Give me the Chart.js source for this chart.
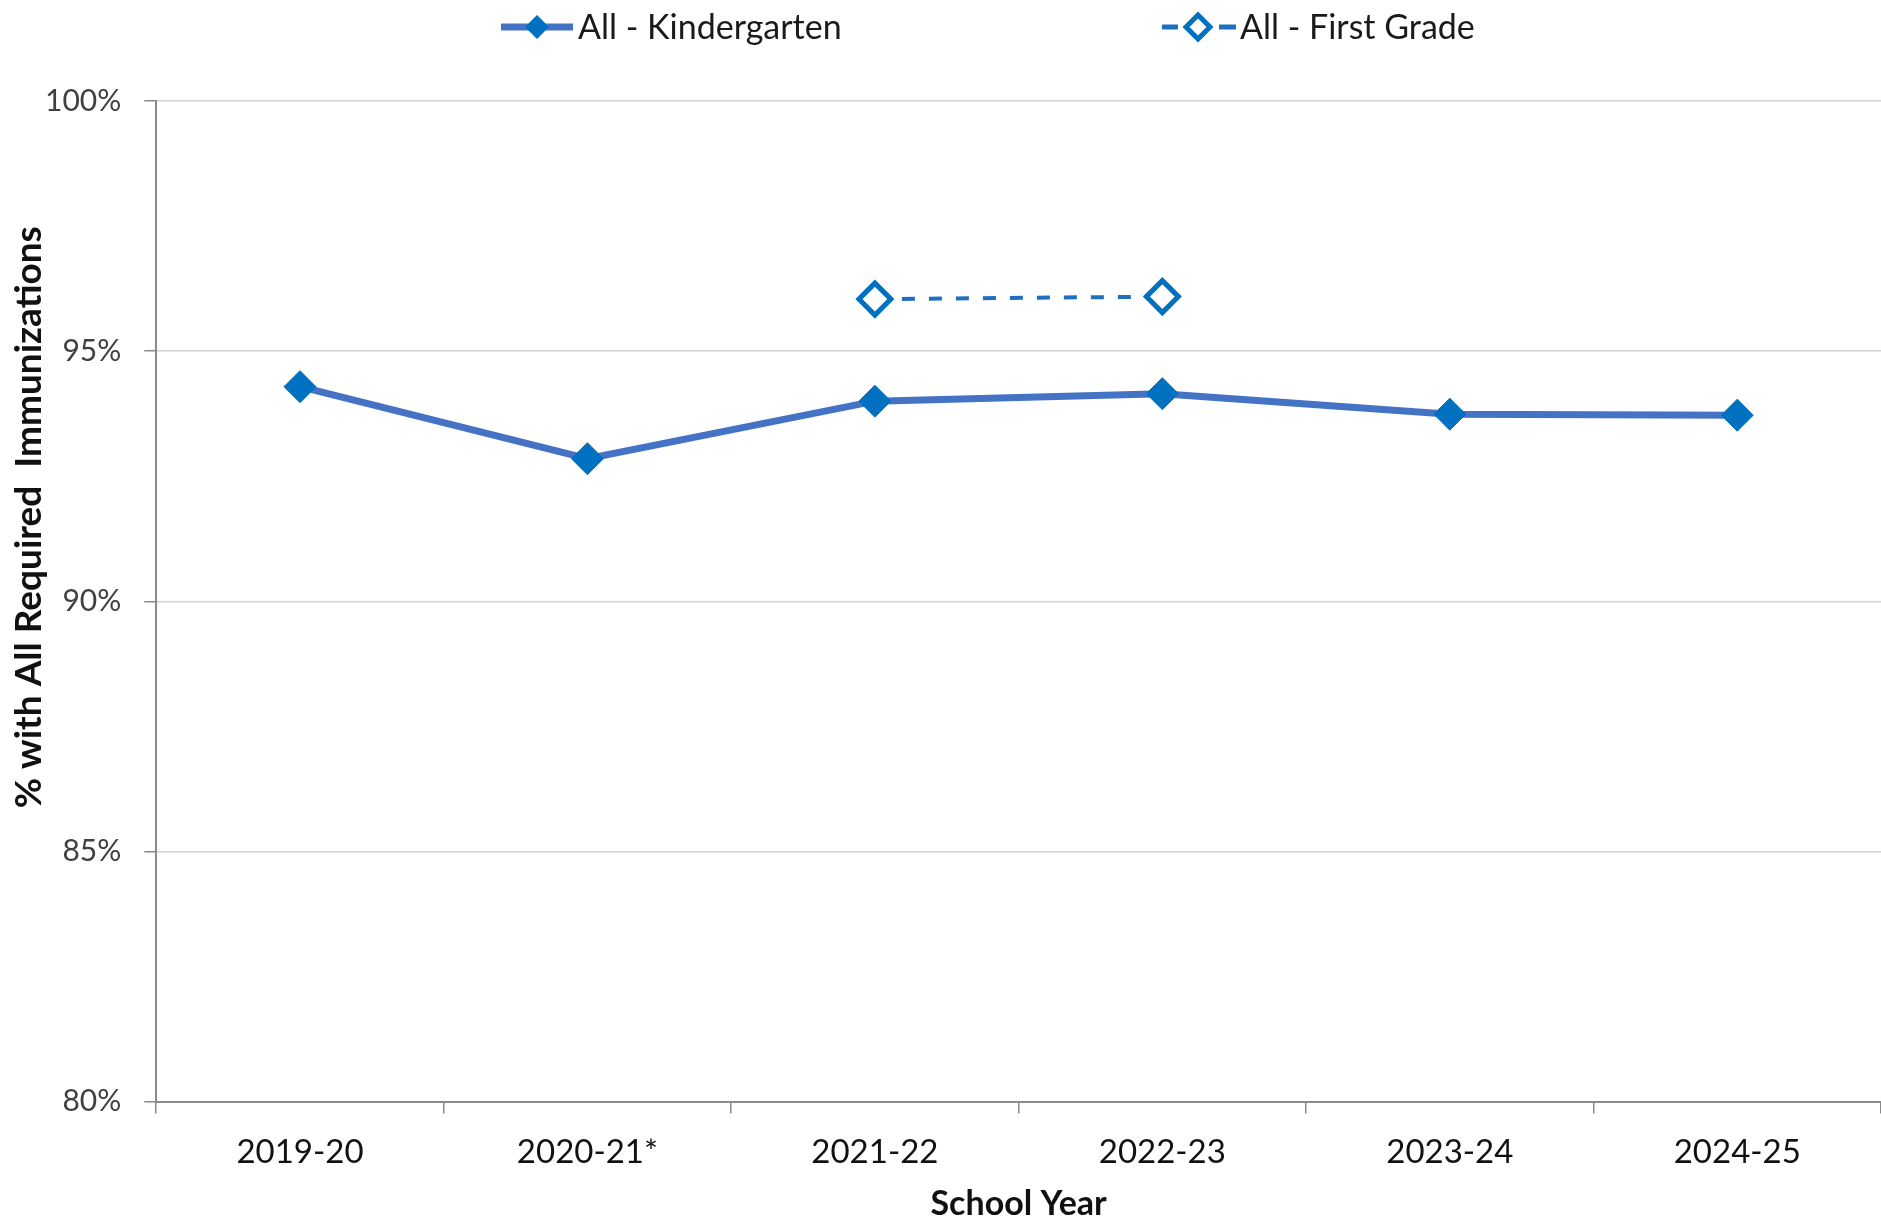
<!DOCTYPE html>
<html lang="en">
<head>
  <meta charset="UTF-8">
  <title>Immunizations by School Year</title>
  <script src="https://cdn.jsdelivr.net/npm/chart.js"></script>
  <style>
    html, body { margin: 0; padding: 0; background: #fff; overflow: hidden; }
    #wrap { width: 1881px; height: 1221px; }
  </style>
</head>
<body>
  <div id="wrap"><canvas id="grafica"></canvas></div>

  <script>
    const years = ['2019-20', '2020-21*', '2021-22', '2022-23', '2023-24', '2024-25'];
    const kindergarten = [94.29, 92.85, 94.0, 94.15, 93.74, 93.72];
    const firstGrade = [null, null, 96.04, 96.09, null, null];
    const yTicks = [80, 85, 90, 95, 100];
    const seriesNames = ['All - Kindergarten', 'All - First Grade'];
    const yTitle = '% with All Required  Immunizations';
    const xTitle = 'School Year';

    const fuente = "Lato, 'Open Sans', sans-serif";

    function diamond(ctx, x, y, r) {
      ctx.beginPath();
      ctx.moveTo(x, y - r);
      ctx.lineTo(x + r, y);
      ctx.lineTo(x, y + r);
      ctx.lineTo(x - r, y);
      ctx.closePath();
    }

    // legend row on top, drawn by hand to keep the wide Excel spacing
    const legendRow = {
      id: 'legendRow',
      afterDraw(chart) {
        const ctx = chart.ctx;
        const y = 27;
        ctx.save();
        // kindergarten sample
        ctx.strokeStyle = '#4472C4';
        ctx.lineWidth = 7;
        ctx.beginPath(); ctx.moveTo(501, y); ctx.lineTo(573, y); ctx.stroke();
        ctx.fillStyle = '#0070C0';
        diamond(ctx, 537, y, 12); ctx.fill();
        // first grade sample
        ctx.strokeStyle = '#1F6FC0';
        ctx.lineWidth = 5;
        ctx.beginPath(); ctx.moveTo(1162, y); ctx.lineTo(1178, y); ctx.stroke();
        ctx.beginPath(); ctx.moveTo(1219, y); ctx.lineTo(1236, y); ctx.stroke();
        ctx.fillStyle = '#fff';
        ctx.strokeStyle = '#0070C0';
        ctx.lineWidth = 5;
        diamond(ctx, 1198, y, 12); ctx.fill(); ctx.stroke();
        // texts
        ctx.fillStyle = '#1a1a1a';
        ctx.font = '34px ' + fuente;
        ctx.textBaseline = 'middle';
        ctx.textAlign = 'left';
        ctx.fillText(seriesNames[0], 578, y + 1);
        ctx.fillText(seriesNames[1], 1240, y + 1);
        ctx.restore();
      }
    };

    // y title sits higher than the axis centre in the original
    const yTitlePlugin = {
      id: 'yTitlePlugin',
      afterDraw(chart) {
        const ctx = chart.ctx;
        const a = chart.chartArea;
        ctx.save();
        ctx.translate(29, a.top + (a.bottom - a.top) * 0.416);
        ctx.rotate(-Math.PI / 2);
        ctx.fillStyle = '#111';
        ctx.font = 'bold 37px ' + fuente;
        ctx.textAlign = 'center';
        ctx.textBaseline = 'middle';
        ctx.fillText(yTitle, 0, 0);
        ctx.restore();
      }
    };

    const ctx = document.getElementById('grafica').getContext('2d');
    new Chart(ctx, {
      type: 'line',
      data: {
        labels: years,
        datasets: [{
          label: seriesNames[0],
          data: kindergarten,
          borderColor: '#4472C4',
          borderWidth: 7,
          pointStyle: 'rectRot',
          pointRadius: 16,
          pointBackgroundColor: '#0070C0',
          pointBorderColor: '#0070C0',
          pointBorderWidth: 1,
          tension: 0
        }, {
          label: seriesNames[1],
          data: firstGrade,
          borderColor: '#1F6FC0',
          borderWidth: 4,
          borderDash: [13, 14],
          pointStyle: 'rectRot',
          pointRadius: 16,
          pointBackgroundColor: '#fff',
          pointBorderColor: '#0070C0',
          pointBorderWidth: 5,
          spanGaps: false,
          tension: 0
        }]
      },
      options: {
        responsive: true,
        maintainAspectRatio: false,
        animation: false,
        layout: { autoPadding: false, padding: { top: 101, left: 22, right: 0, bottom: -3 } },
        plugins: {
          legend: { display: false },
          tooltip: { enabled: false }
        },
        scales: {
          x: {
            type: 'category',
            offset: true,
            grid: {
              offset: true,
              drawOnChartArea: false,
              drawTicks: true,
              tickLength: 12,
              color: '#8a8a8a',
              lineWidth: 1.5
            },
            border: { color: '#8a8a8a', width: 2 },
            ticks: {
              color: '#111',
              font: { family: fuente, size: 33 },
              padding: 19,
              maxRotation: 0,
              autoSkip: false
            },
            title: {
              display: true,
              text: xTitle,
              color: '#111',
              font: { family: fuente, size: 34, weight: 'bold' },
              padding: { top: -8, bottom: 0 }
            }
          },
          y: {
            min: yTicks[0],
            max: yTicks[yTicks.length - 1],
            afterBuildTicks(scale) {
              scale.ticks = yTicks.map(v => ({ value: v }));
            },
            grid: {
              color: '#d4d4d4',
              lineWidth: 1.5,
              tickLength: 12,
              tickColor: '#8a8a8a'
            },
            border: { color: '#8a8a8a', width: 2 },
            ticks: {
              color: '#404040',
              font: { family: fuente, size: 30 },
              padding: 23,
              callback: v => v + '%'
            }
          }
        }
      },
      plugins: [legendRow, yTitlePlugin]
    });
  </script>
</body>
</html>
